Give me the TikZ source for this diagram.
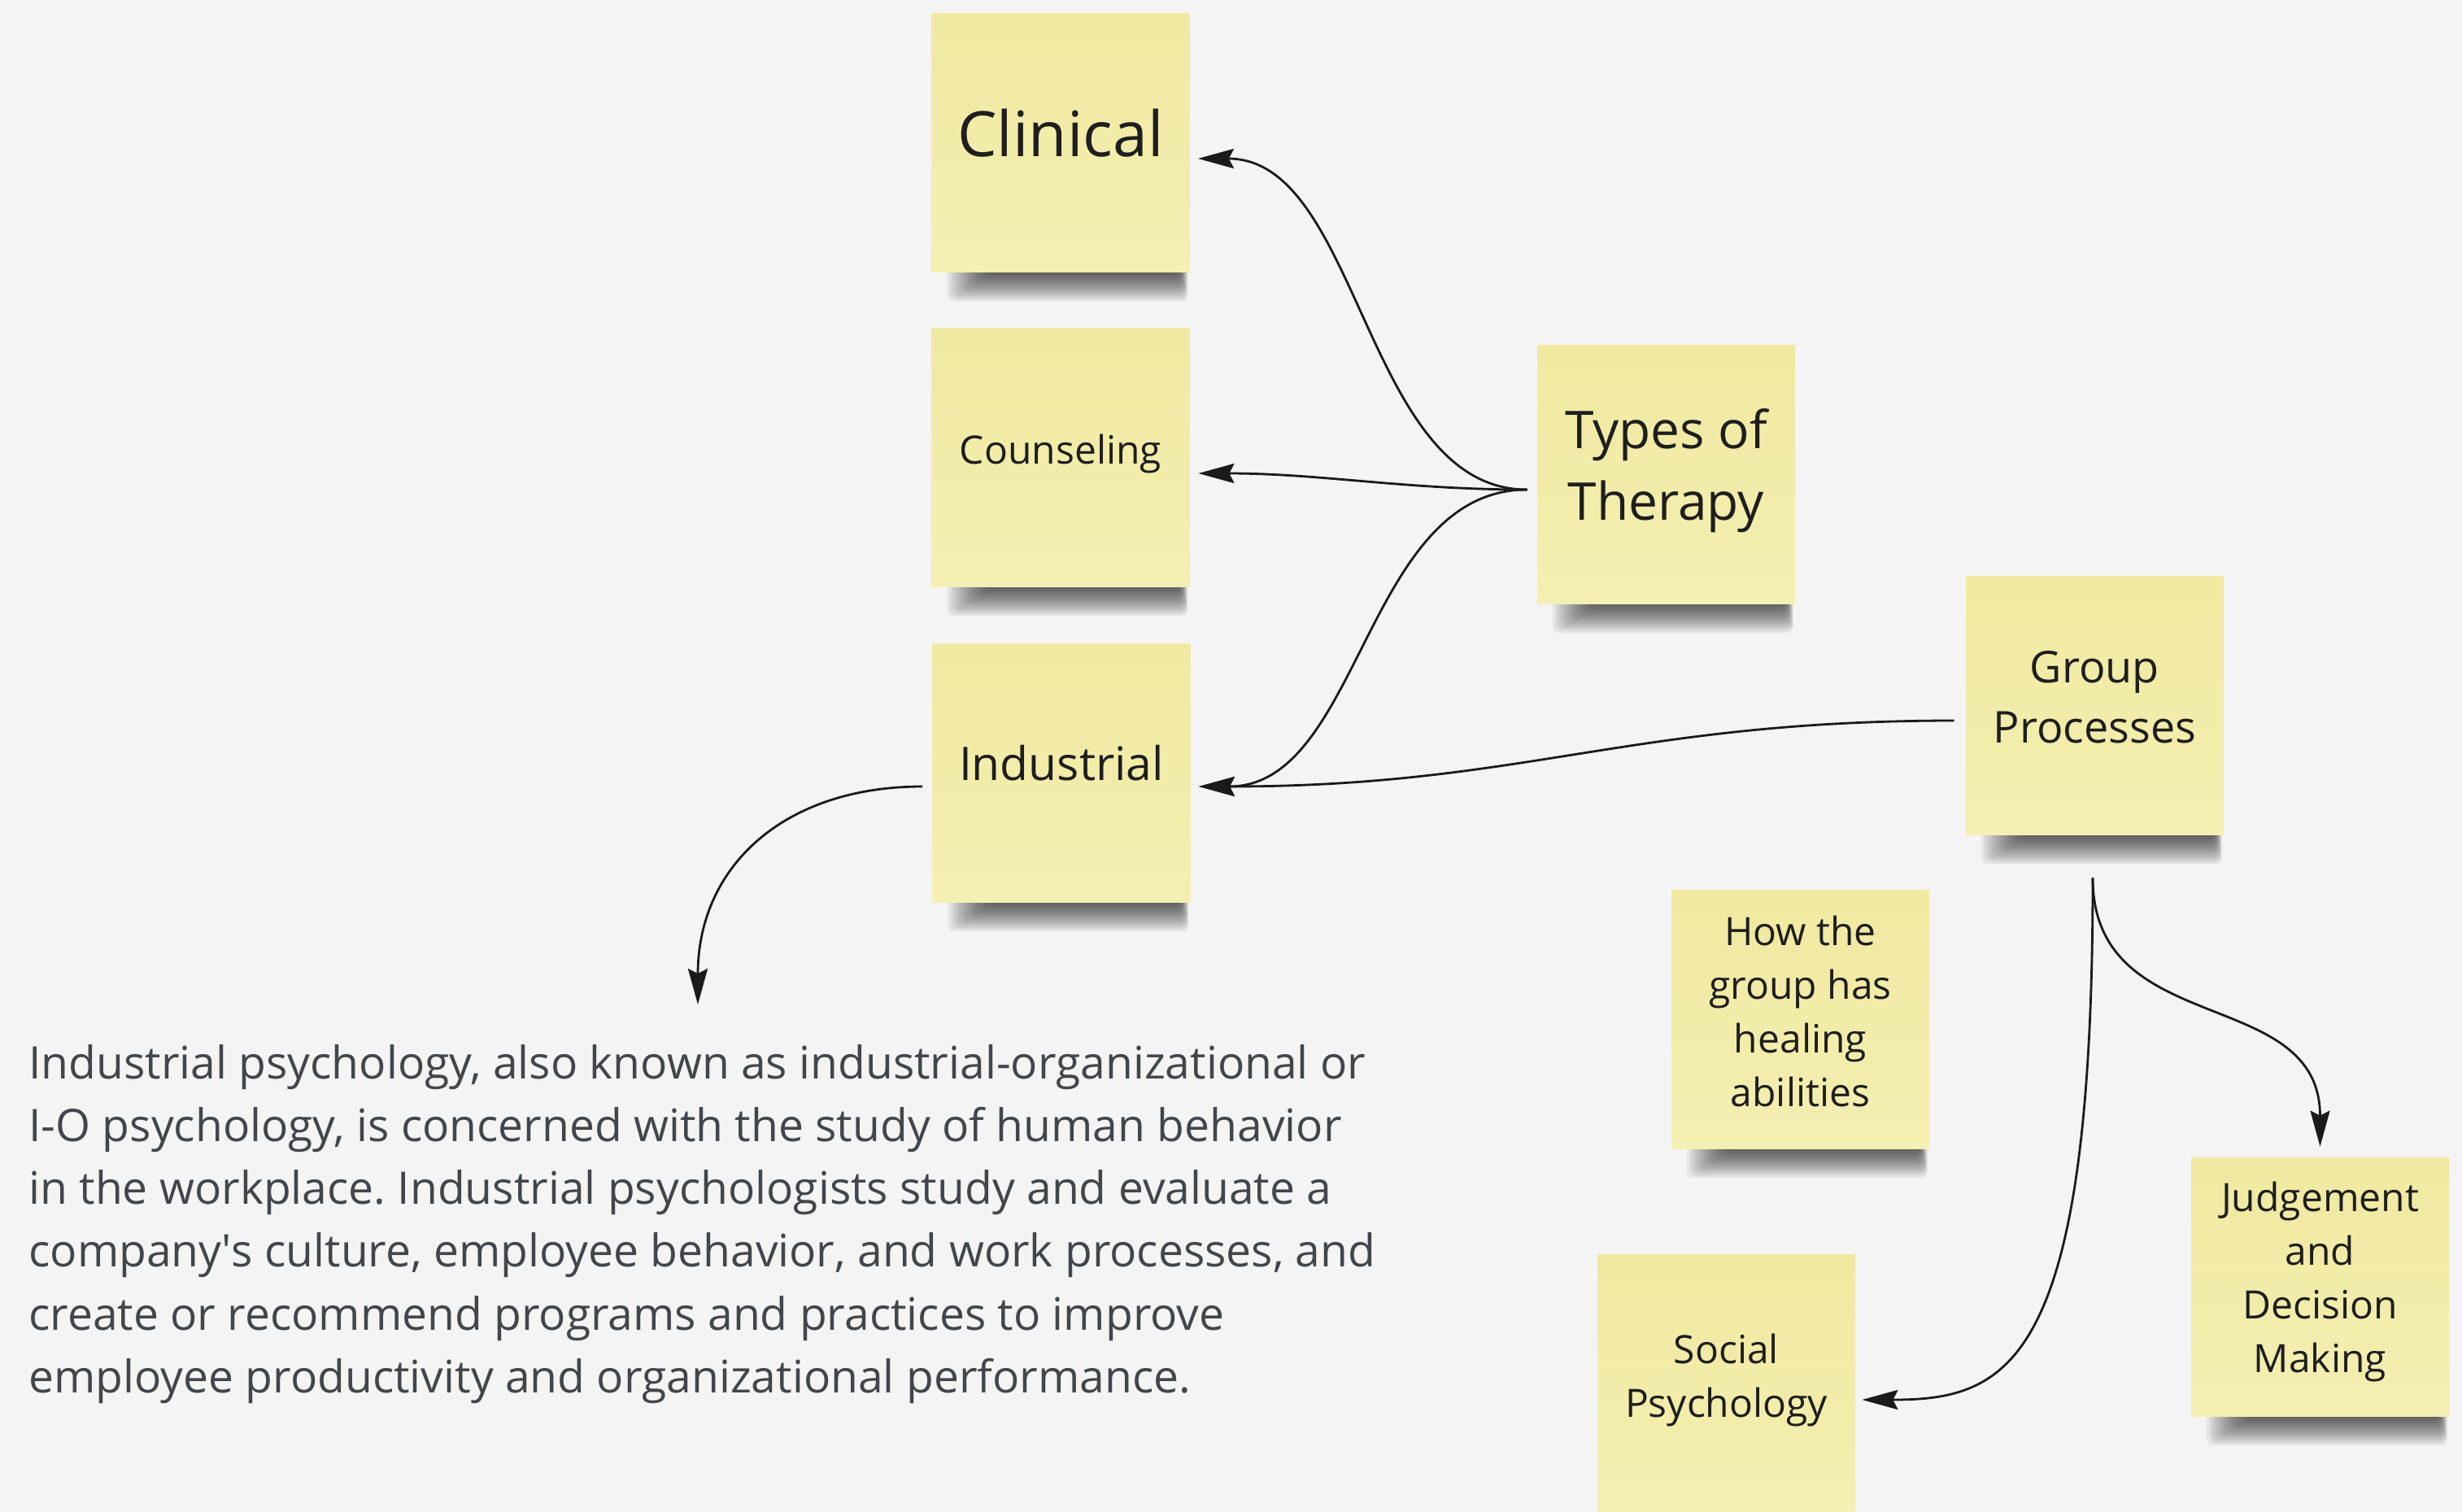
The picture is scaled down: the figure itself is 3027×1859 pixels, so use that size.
\documentclass[tikz,border=0pt]{standalone}
\usepackage{fontspec}
\setmainfont{Open Sans}
\usetikzlibrary{arrows.meta}
\definecolor{bg}{HTML}{F4F4F4}
\definecolor{notetop}{HTML}{F0E9A1}
\definecolor{notebot}{HTML}{F4EFB2}
\definecolor{notetext}{HTML}{1E1E1E}
\definecolor{paratext}{HTML}{42464A}
\definecolor{linecol}{HTML}{1A1A1A}
\pgfdeclarelayer{backlayer}
\pgfdeclarelayer{shadowlayer}
\pgfsetlayers{backlayer,shadowlayer,main}
\newcommand\notesh[1]{%
  \foreach \k in {1,...,16}{%
    \fill[black, opacity=0.05, rounded corners=4pt]
      ([xshift={8pt+\k*1.6pt}, yshift=6pt]#1.south west) rectangle
      ([xshift={-1pt-\k*0.3pt}, yshift={-(19pt-\k*1.1pt)}]#1.south east);
  }}
\frenchspacing
\begin{document}
\begin{tikzpicture}[x=0.5pt,y=-0.5pt,
  note/.style={top color=notetop, bottom color=notebot, minimum width=158.5pt,
    minimum height=159pt, inner sep=0pt},
  notelabel/.style={inner sep=0pt, align=center, text=notetext,
    font=\fontsize{24}{33}\selectfont},
  conn/.style={draw=linecol, line width=1.4pt,
    -{Stealth[length=22pt,width=12pt,inset=3pt]}},
]
\begin{pgfonlayer}{backlayer}
\fill[bg] (0,0) rectangle (3027,1859);
\end{pgfonlayer}
\path[use as bounding box] (0,0) rectangle (3027,1859);

\node[note] (clinical) at (1304,175.5) {};
\node[note] (counseling) at (1304,562.5) {};
\node[note] (industrial) at (1305,950) {};
\node[note] (types) at (2048.5,583) {};
\node[note] (group) at (2575.5,867.5) {};
\node[note] (how) at (2213.5,1253) {};
\node[note] (judge) at (2852.5,1582) {};
\node[note] (social) at (2122.5,1701) {};

\begin{pgfonlayer}{shadowlayer}
\notesh{clinical}
\notesh{counseling}
\notesh{industrial}
\notesh{types}
\notesh{group}
\notesh{how}
\notesh{judge}
\notesh{social}
\end{pgfonlayer}

\node[notelabel, font=\fontsize{38.5}{44}\selectfont] (clinicalT) at ([yshift=6pt]clinical.center) {Clinical};
\node[notelabel] (counselingT) at ([yshift=2pt]counseling.center) {Counseling};
\node[notelabel, font=\fontsize{28.5}{36}\selectfont] (industrialT) at ([yshift=6pt]industrial.center) {Industrial};
\node[notelabel, font=\fontsize{32}{44}\selectfont] (typesT) at ([yshift=2pt]types.center) {Types of\\Therapy};
\node[notelabel, font=\fontsize{27}{37}\selectfont] (groupT) at ([yshift=5pt]group.center) {Group\\Processes};
\node[notelabel] (howT) at ([yshift=5pt]how.center) {How the\\group has\\healing\\abilities};
\node[notelabel] (judgeT) at ([yshift=3pt]judge.center) {Judgement\\and\\Decision\\Making};
\node[notelabel] (socialT) at ([yshift=2pt]social.center) {Social\\Psychology};

\node[anchor=north west, inner sep=0pt, align=left, text=paratext,
  font=\fontsize{27.6}{38.6}\selectfont] (desc) at (35,1284)
  {Industrial psychology, also known as industrial-organizational or\\
   I-O psychology, is concerned with the study of human behavior\\
   in the workplace. Industrial psychologists study and evaluate a\\
   company\textquotesingle s culture, employee behavior, and work processes, and\\
   create or recommend programs and practices to improve\\
   employee productivity and organizational performance.};

\draw[conn] ([xshift=-6pt,yshift=-9.5pt]types.west) .. controls +(-200,0) and +(200,0) .. ([xshift=5pt,yshift=-9.75pt]clinical.east);
\draw[conn] ([xshift=-6pt,yshift=-9.5pt]types.west) .. controls +(-150,0) and +(150,0) .. ([xshift=5.25pt,yshift=-9.75pt]counseling.east);
\draw[conn] ([xshift=-6pt,yshift=-9.5pt]types.west) .. controls +(-200,0) and +(200,0) .. ([xshift=5pt,yshift=-8.5pt]industrial.east);
\draw[conn] ([xshift=-7pt,yshift=-9.25pt]group.west) .. controls +(-400,0) and +(400,0) .. ([xshift=5pt,yshift=-8.5pt]industrial.east);
\draw[conn] ([xshift=-6pt,yshift=-8.5pt]industrial.west) .. controls +(-170,0) and +(0,-170) .. ([xshift=411.5pt,yshift=24.5pt]desc.north west);
\draw[conn] ([xshift=-1.25pt,yshift=-26.25pt]group.south) .. controls +(0,600) and +(180,0) .. ([xshift=4pt,yshift=-10pt]social.east);
\draw[conn] ([xshift=-1.25pt,yshift=-26.25pt]group.south) .. controls +(0,200) and +(0,-200) .. ([xshift=0pt,yshift=6.5pt]judge.north);
\end{tikzpicture}
\end{document}
